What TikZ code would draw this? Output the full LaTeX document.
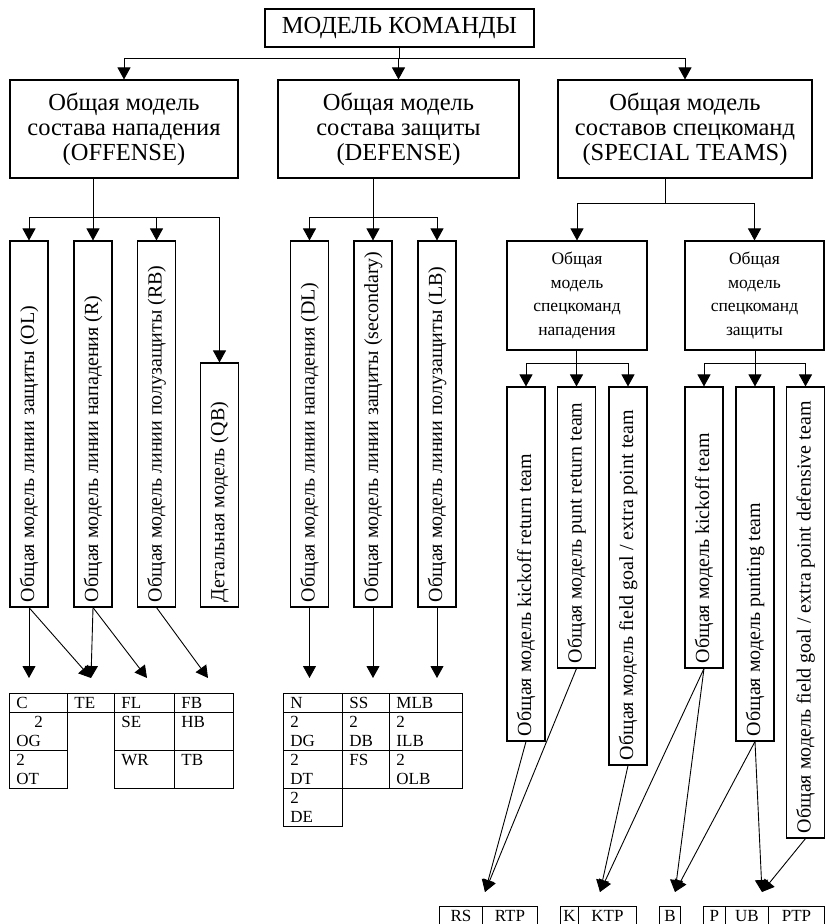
\documentclass[tikz,border=0pt]{standalone}
\usepackage{fontspec}
\setmainfont{Liberation Serif}
\usetikzlibrary{arrows.meta, calc}
\newcommand{\vtesto}[2]{\rotatebox{90}{\makebox[#1pt][l]{#2}}}
\newcommand{\cella}[4][\raggedright\leftskip=7pt\relax]{\parbox[t][#3pt][t]{#2pt}{#1\rule{0pt}{15pt}#4}}

\begin{document}
\begin{tikzpicture}[x = 1pt, y = -1pt, line width = 0.9pt,
    box/.style = {draw, line width = 1.1pt, inner sep = 0pt, align = center},
    big/.style = {box, minimum height = 98pt, font = \fontsize{24.5}{25}\selectfont},
    vbox/.style = {box, minimum width = 38pt, font = \fontsize{20}{24}\selectfont},
    cell/.style = {draw, anchor = north west, inner sep = 0pt, font = \fontsize{17}{19}\selectfont},
    arr/.style = {-{Triangle[length = 12pt, width = 13pt]}}]
    \useasboundingbox (0,0) rectangle (825,924);
    % Radice
    \node[box, minimum width = 269pt, minimum height = 38pt, font = \fontsize{24.5}{28}\selectfont] (team) at (399.5,28) {МОДЕЛЬ КОМАНДЫ};
    % Livello 1
    \node[big, minimum width = 228pt] (off) at (124,129) {Общая модель\\состава нападения\\(OFFENSE)};
    \node[big, minimum width = 241pt] (def) at (398.5,129) {Общая модель\\состава защиты\\(DEFENSE)};
    \node[big, minimum width = 254pt] (spec) at (685,129) {Общая модель\\составов спецкоманд\\(SPECIAL TEAMS)};
    % Nodi verticali
    \node[vbox, minimum height = 366pt] (ol) at (29,424) {\vtesto{356}{Общая модель линии защиты (OL)}};
    \node[vbox, minimum height = 366pt] (or) at (93,424) {\vtesto{356}{Общая модель линии нападения (R)}};
    \node[vbox, minimum height = 366pt] (orb) at (156.5,424) {\vtesto{356}{Общая модель линии полузащиты (RB)}};
    \node[vbox, minimum height = 244pt] (qb) at (219.5,485) {\vtesto{234}{Детальная модель (QB)}};
    \node[vbox, minimum height = 366pt] (dl) at (309.5,424) {\vtesto{356}{Общая модель линии нападения (DL)}};
    \node[vbox, minimum height = 366pt] (sec) at (373,424) {\vtesto{356}{Общая модель линии защиты (secondary)}};
    \node[vbox, minimum height = 366pt] (lb) at (437,424) {\vtesto{356}{Общая модель линии полузащиты (LB)}};
    % Spec
    \node[box, minimum width = 140pt, minimum height = 109pt, font = \fontsize{17.5}{23.5}\selectfont] (so) at (577,295.5) {Общая\\модель\\спецкоманд\\нападения};
    \node[box, minimum width = 139pt, minimum height = 109pt, font = \fontsize{17.5}{23.5}\selectfont] (sd) at (754.5,295.5) {Общая\\модель\\спецкоманд\\защиты};
    \node[vbox, minimum height = 354pt] (kr) at (526,564) {\vtesto{344}{Общая модель kickoff return team}};
    \node[vbox, minimum height = 281pt] (pr) at (576.5,527.5) {\vtesto{271}{Общая модель punt return team}};
    \node[vbox, minimum height = 378pt] (fg) at (628,576) {\vtesto{368}{Общая модель field goal / extra point team}};
    \node[vbox, minimum height = 281pt] (ko) at (704,527.5) {\vtesto{271}{Общая модель kickoff team}};
    \node[vbox, minimum height = 354pt] (pu) at (755,564) {\vtesto{344}{Общая модель punting team}};
    \node[vbox, minimum height = 451pt] (fgd) at (805.5,612.5) {\vtesto{441}{Общая модель field goal / extra point defensive team}};
    % Tabelle
    \node[cell] (oC) at (9,693) {\cella{58}{19}{C}};
    \node[cell] (oOG) at (9,712) {\cella{58}{38}{\hspace*{18pt}2\\OG}};
    \node[cell] (oOT) at (9,750) {\cella{58}{38}{2\\OT}};
    \node[cell] (oTE) at (67,693) {\cella{47}{19}{TE}};
    \node[cell] (oFL) at (114,693) {\cella{60}{19}{FL}};
    \node[cell] (oSE) at (114,712) {\cella{60}{38}{SE}};
    \node[cell] (oWR) at (114,750) {\cella{60}{38}{WR}};
    \node[cell] (oFB) at (174,693) {\cella{59}{19}{FB}};
    \node[cell] (oHB) at (174,712) {\cella{59}{38}{HB}};
    \node[cell] (oTB) at (174,750) {\cella{59}{38}{TB}};
    \node[cell] (dN) at (283,693) {\cella{59}{19}{N}};
    \node[cell] (dDG) at (283,712) {\cella{59}{38}{2\\DG}};
    \node[cell] (dDT) at (283,750) {\cella{59}{38}{2\\DT}};
    \node[cell] (dDE) at (283,788) {\cella{59}{38}{2\\DE}};
    \node[cell] (dSS) at (342,693) {\cella{47}{19}{SS}};
    \node[cell] (dDB) at (342,712) {\cella{47}{38}{2\\DB}};
    \node[cell] (dFS) at (342,750) {\cella{47}{38}{FS}};
    \node[cell] (dMLB) at (389,693) {\cella{73}{19}{MLB}};
    \node[cell] (dILB) at (389,712) {\cella{73}{38}{2\\ILB}};
    \node[cell] (dOLB) at (389,750) {\cella{73}{38}{2\\OLB}};
    \node[cell] (sRS) at (439,906) {\cella[\centering]{43}{30}{RS}};
    \node[cell] (sRTP) at (482,906) {\cella[\centering]{55}{30}{RTP}};
    \node[cell] (sK) at (560,906) {\cella[\centering]{18}{30}{K}};
    \node[cell] (sKTP) at (578,906) {\cella[\centering]{58}{30}{KTP}};
    \node[cell] (sB) at (659,906) {\cella[\centering]{21}{30}{B}};
    \node[cell] (sP) at (703,906) {\cella[\centering]{22}{30}{P}};
    \node[cell] (sUB) at (725,906) {\cella[\centering]{43}{30}{UB}};
    \node[cell] (sPTP) at (768,906) {\cella[\centering]{56}{30}{PTP}};
    % Collegamenti
    \coordinate (b0) at (0,58);
    \coordinate (b1) at (0,217);
    \coordinate (b2) at (0,203);
    \coordinate (b3) at (0,363);
    \coordinate (m2) at ($(so.north)!0.5!(sd.north)$);
    \draw (team.south) -- (team.south |- b0);
    \draw (off.north |- b0) -- (spec.north |- b0);
    \foreach \n in {off, def, spec} \draw[arr] (\n.north |- b0) -- (\n.north);
    \draw (or.north |- off.south) -- (or.north |- b1);
    \draw (ol.north |- b1) -- (qb.north |- b1);
    \foreach \n in {ol, or, orb, qb} \draw[arr] (\n.north |- b1) -- (\n.north);
    \draw (sec.north |- def.south) -- (sec.north |- b1);
    \draw (dl.north |- b1) -- (lb.north |- b1);
    \foreach \n in {dl, sec, lb} \draw[arr] (\n.north |- b1) -- (\n.north);
    \draw (m2 |- spec.south) -- (m2 |- b2);
    \draw (so.north |- b2) -- (sd.north |- b2);
    \foreach \n in {so, sd} \draw[arr] (\n.north |- b2) -- (\n.north);
    \draw (pr.north |- so.south) -- (pr.north |- b3);
    \draw (kr.north |- b3) -- (fg.north |- b3);
    \draw (pu.north |- sd.south) -- (pu.north |- b3);
    \draw (ko.north |- b3) -- (fgd.north |- b3);
    \foreach \n in {kr, pr, fg, ko, pu, fgd} \draw[arr] (\n.north |- b3) -- (\n.north);
    % Frecce verso le tabelle
    \coordinate (tC) at (29,678);
    \coordinate (tTE) at (91,678);
    \coordinate (tFL) at (147,678);
    \coordinate (tFB) at (208,678);
    \coordinate (tRS) at (485,892);
    \coordinate (tKTP) at (600,892);
    \coordinate (tB) at (675,892);
    \coordinate (tP) at (762,892);
    \draw[arr] (ol.south) -- (tC);
    \draw[arr] (ol.south) -- (tTE);
    \draw[arr] (or.south) -- (tTE);
    \draw[arr] (or.south) -- (tFL);
    \draw[arr] (orb.south) -- (tFB);
    \foreach \n in {dl, sec, lb} \draw[arr] (\n.south) -- (\n.south |- tC);
    \draw[arr] (kr.south) -- (tRS);
    \draw[arr] (pr.south) -- (tRS);
    \draw[arr] (fg.south) -- (tKTP);
    \draw[arr] (ko.south) -- (tKTP);
    \draw[arr] (ko.south) -- (tB);
    \draw[arr] (pu.south) -- (tB);
    \draw[arr] (pu.south) -- (tP);
    \draw[arr] (fgd.south) -- (tP);
\end{tikzpicture}
\end{document}
